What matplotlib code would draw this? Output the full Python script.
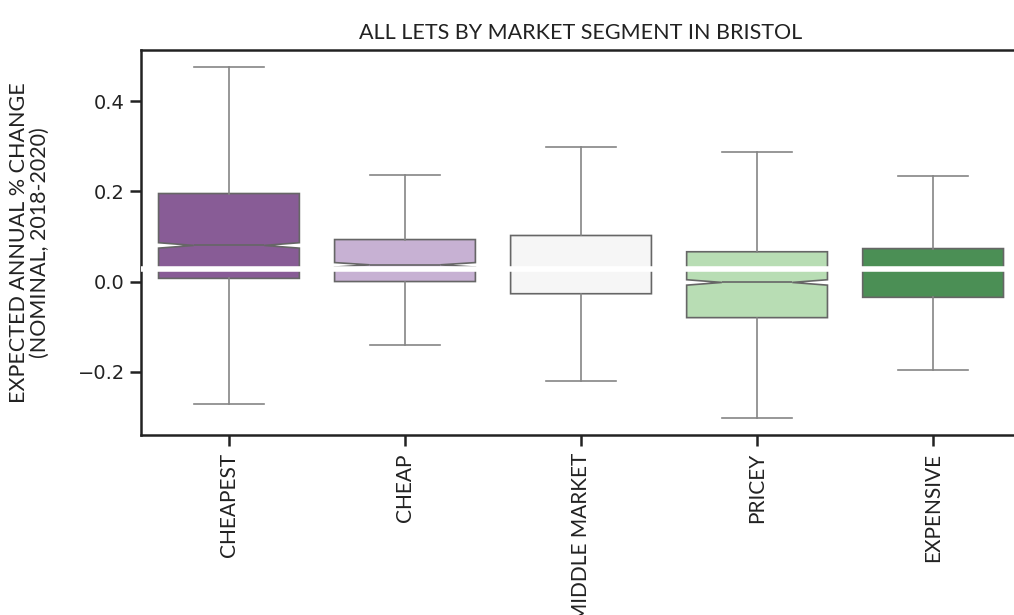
import matplotlib.pyplot as plt

# market segments and the summary statistics of each box
segments = ["CHEAPEST", "CHEAP", "MIDDLE MARKET", "PRICEY", "EXPENSIVE"]
whisker_low = [-0.271, -0.140, -0.220, -0.302, -0.197]
q1 = [0.007, 0.000, -0.027, -0.080, -0.035]
median = [0.080, 0.037, 0.028, -0.002, 0.028]
q3 = [0.195, 0.093, 0.102, 0.066, 0.073]
whisker_high = [0.475, 0.235, 0.297, 0.286, 0.234]
ci_half = [0.006, 0.005, 0.002, 0.006, 0.002]
overall_median = 0.028

colors = ["#885c96", "#c7b1d3", "#f6f6f6", "#b8ddb4", "#4b8f55"]
label_font = "Lato"

stats = []
for i, name in enumerate(segments):
    stats.append({
        "label": name,
        "whislo": whisker_low[i],
        "q1": q1[i],
        "med": median[i],
        "q3": q3[i],
        "whishi": whisker_high[i],
        "cilo": median[i] - ci_half[i],
        "cihi": median[i] + ci_half[i],
        "fliers": [],
    })

fig = plt.figure(figsize=(10.14, 6.15), dpi=100)
ax = fig.add_axes([0.139, 0.2927, 0.868, 0.626])

bp = ax.bxp(stats, positions=range(len(segments)), widths=0.8,
            shownotches=True, patch_artist=True, showfliers=False,
            capwidths=0.4,
            boxprops=dict(edgecolor="#666666", linewidth=1.2),
            whiskerprops=dict(color="#858585", linewidth=1.2),
            capprops=dict(color="#858585", linewidth=1.2),
            medianprops=dict(color="#666666", linewidth=1.2))
for patch, c in zip(bp["boxes"], colors):
    patch.set_facecolor(c)

# overall median across all lets
ax.axhline(overall_median, color="white", linewidth=4, zorder=5)

ax.set_xlim(-0.5, len(segments) - 0.5)
ax.set_ylim(-0.34, 0.513)
ax.set_yticks([-0.2, 0.0, 0.2, 0.4])
ax.set_xticks(range(len(segments)))
ax.set_xticklabels(segments, rotation=90, family=label_font, fontsize=15)
ax.tick_params(axis="y", labelsize=14, length=8, width=1.8, colors="#222222")
ax.tick_params(axis="x", length=8, width=1.8, colors="#222222", pad=5)

for s in ax.spines.values():
    s.set_linewidth(1.8)
    s.set_color("#222222")

ax.set_ylabel("EXPECTED ANNUAL % CHANGE\n(NOMINAL, 2018-2020)",
              family=label_font, fontsize=15.5, color="#222222",
              linespacing=1.05, labelpad=20)
ax.set_title("ALL LETS BY MARKET SEGMENT IN BRISTOL", family=label_font,
             fontsize=15.5, color="#222222", pad=8)

fig.savefig("out.png", dpi=100)
